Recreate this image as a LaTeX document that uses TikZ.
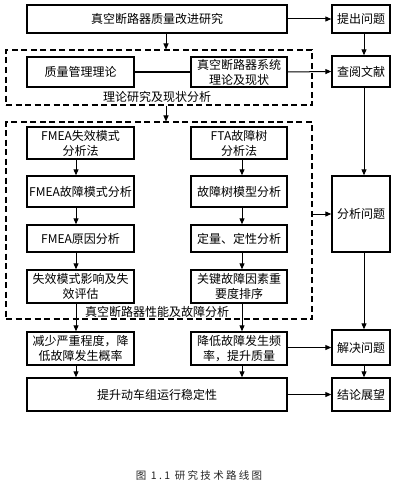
\documentclass[tikz,border=0pt]{standalone}
\usepackage{fontspec}
\setmainfont{Noto Sans CJK SC}
\newfontfamily\capfont[LetterSpace=22]{Noto Sans CJK SC}
\usetikzlibrary{arrows.meta,calc}
\begin{document}
\begin{tikzpicture}[x=1pt,y=-1pt,
  box/.style={draw,line width=1.4pt,align=center,inner sep=0pt,font=\fontsize{12}{15}\selectfont},
  dbox/.style={draw,line width=1.1pt,dash pattern=on 6pt off 3.5pt,inner sep=0pt},
  arr/.style={line width=1pt,-{Triangle[length=6pt,width=5pt]}},
  lbl/.style={font=\fontsize{12}{15}\selectfont,inner sep=1pt}]
\useasboundingbox (0,0) rectangle (413,487);
\fill[white] (0,0) rectangle (413,487);
% dashed boxes
\node[dbox,minimum width=306pt,minimum height=55pt] (db1) at (159,77.5) {};
\node[dbox,minimum width=306pt,minimum height=197pt] (db2) at (159,220.5) {};
\node[lbl] (l1) at (157,97) {理论研究及现状分析};
\node[lbl] (l2) at (157,312) {真空断路器性能及故障分析};
% main boxes
\node[box,minimum width=260pt,minimum height=28pt] (top) at (157,19) {真空断路器质量改进研究};
\node[box,minimum width=107pt,minimum height=30pt] (zl) at (80.5,72) {质量管理理论};
\node[box,minimum width=96pt,minimum height=30pt] (xt) at (239,72) {真空断路器系统\\理论及现状};
\node[box,minimum width=107pt,minimum height=32pt] (f1) at (80.5,143) {FMEA失效模式\\分析法};
\node[box,minimum width=96pt,minimum height=32pt] (t1) at (239,143) {FTA故障树\\分析法};
\node[box,minimum width=107pt,minimum height=31pt] (f2) at (80.5,191.5) {FMEA故障模式分析};
\node[box,minimum width=96pt,minimum height=31pt] (t2) at (239,191.5) {故障树模型分析};
\node[box,minimum width=107pt,minimum height=27pt] (f3) at (80.5,238.5) {FMEA原因分析};
\node[box,minimum width=96pt,minimum height=27pt] (t3) at (239,238.5) {定量、定性分析};
\node[box,minimum width=107pt,minimum height=33pt] (f4) at (80.5,286.5) {失效模式影响及失\\效评估};
\node[box,minimum width=96pt,minimum height=33pt] (t4) at (239,286.5) {关键故障因素重\\要度排序};
\node[box,minimum width=107pt,minimum height=33pt] (f5) at (80.5,348.5) {减少严重程度，降\\低故障发生概率};
\node[box,minimum width=96pt,minimum height=33pt] (t5) at (239,348.5) {降低故障发生频\\率，提升质量};
\node[box,minimum width=260pt,minimum height=33pt] (ts) at (157,394.5) {提升动车组运行稳定性};
% right column
\node[box,minimum width=58pt,minimum height=28pt] (r1) at (361,19) {提出问题};
\node[box,minimum width=58pt,minimum height=31pt] (r2) at (361,71.5) {查阅文献};
\node[box,minimum width=58pt,minimum height=76pt] (r3) at (361,214) {分析问题};
\node[box,minimum width=58pt,minimum height=35pt] (r4) at (361,347.5) {解决问题};
\node[box,minimum width=58pt,minimum height=33pt] (r5) at (361,394.5) {结论展望};
% column guide coordinates
\coordinate (mx) at (166,0);
\coordinate (lx) at (76,0);
\coordinate (rx) at (242,0);
\coordinate (qx) at (364,0);
% connectors
\draw[arr] (top.east) -- (r1.west);
\draw[arr] (top.south -| mx) -- (db1.north -| mx);
\draw[line width=1pt] (zl.east) -- (xt.west);
\draw[arr] (xt.east) -- (r2.west);
\draw[arr] (db1.south -| mx) -- (db2.north -| mx);
\draw[arr] (f1.south -| lx) -- (f2.north -| lx);
\draw[arr] (f2.south -| lx) -- (f3.north -| lx);
\draw[arr] (f3.south -| lx) -- (f4.north -| lx);
\draw[arr] (f4.south -| lx) -- (f5.north -| lx);
\draw[arr] (t1.south -| rx) -- (t2.north -| rx);
\draw[arr] (t2.south -| rx) -- (t3.north -| rx);
\draw[arr] (t3.south -| rx) -- (t4.north -| rx);
\draw[arr] (t4.south -| rx) -- (t5.north -| rx);
\draw[arr] (f5.south -| lx) -- (ts.north -| lx);
\draw[arr] (t5.south -| rx) -- (ts.north -| rx);
\draw[arr] (db2.east |- r3.west) -- (r3.west);
\draw[arr] (t5.east |- r4.west) -- (r4.west);
\draw[arr] (ts.east) -- (r5.west);
\draw[arr] (r1.south -| qx) -- (r2.north -| qx);
\draw[arr] (r2.south -| qx) -- (r3.north -| qx);
\draw[arr] (r3.south -| qx) -- (r4.north -| qx);
\draw[arr] (r4.south -| qx) -- (r5.north -| qx);
% caption
\node[font=\capfont\fontsize{10.5}{12}\selectfont,text=black!85] (cap) at (199,475) {图 1.1 研究技术路线图};
\end{tikzpicture}
\end{document}
